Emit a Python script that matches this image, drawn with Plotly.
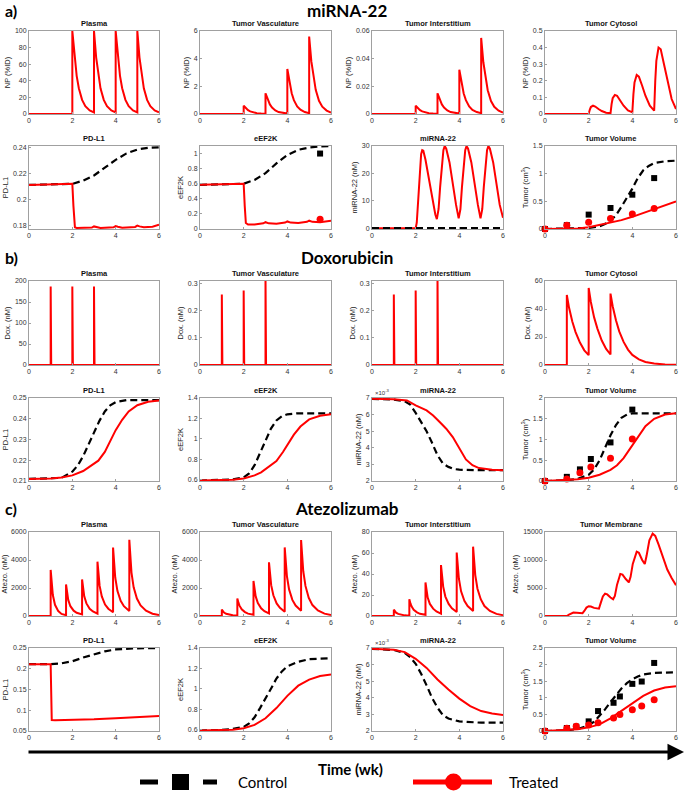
import plotly.graph_objects as go
from plotly.subplots import make_subplots

# ---------------- DATA ----------------
# a) miRNA-22
a_spike_t = [0, 2, 2, 2.1, 2.2, 2.3, 2.45, 2.6, 2.8, 3, 3, 3.1, 3.2, 3.3, 3.45, 3.6, 3.8,
             4, 4, 4.1, 4.2, 4.3, 4.45, 4.6, 4.8, 5, 5, 5.1, 5.2, 5.3, 5.45, 5.6, 5.8, 6]
a_plasma = [0, 0, 100, 68, 46, 31, 17, 9.5, 4.4, 2, 100, 68, 46, 31, 17, 9.5, 4.4,
            2, 100, 68, 46, 31, 17, 9.5, 4.4, 2, 100, 68, 46, 31, 17, 9.5, 4.4, 2]
a_vasc = [0, 0, 0.6, 0.41, 0.28, 0.19, 0.1, 0.06, 0.03, 0.015, 1.5, 1.02, 0.69, 0.47, 0.26, 0.14, 0.07,
          0.03, 3.25, 2.2, 1.5, 1.0, 0.55, 0.31, 0.14, 0.06, 5.6, 3.8, 2.6, 1.75, 0.95, 0.53, 0.25, 0.11]
a_inter = [0, 0, 0.006, 0.0041, 0.0028, 0.0019, 0.001, 0.0006, 0.0003, 0.00015, 0.015, 0.0102, 0.0069,
           0.0047, 0.0026, 0.0014, 0.0007, 0.0003, 0.032, 0.0218, 0.0148, 0.01, 0.0054, 0.003, 0.0014,
           0.0006, 0.055, 0.0374, 0.0255, 0.0172, 0.0094, 0.0052, 0.0024, 0.001]
a_cyto_t = [0, 2.0, 2.05, 2.1, 2.2, 2.3, 2.45, 2.6, 2.8, 3.0, 3.05, 3.1, 3.2, 3.3, 3.45, 3.6, 3.8,
            4.0, 4.05, 4.1, 4.2, 4.3, 4.45, 4.6, 4.8, 5.0, 5.05, 5.1, 5.2, 5.3, 5.45, 5.6, 5.8, 6.0]
a_cyto = [0, 0, 0.025, 0.042, 0.05, 0.045, 0.03, 0.018, 0.008, 0.004, 0.06, 0.095, 0.115, 0.11, 0.08,
          0.05, 0.022, 0.01, 0.12, 0.19, 0.235, 0.225, 0.17, 0.11, 0.05, 0.02, 0.2, 0.32, 0.4, 0.39,
          0.3, 0.2, 0.09, 0.03]
a_pdl1_t_trt = [0, 1, 2.0, 2.05, 2.08, 2.12, 2.2, 2.5, 2.9, 3.0, 3.1, 3.3, 3.9, 4.0, 4.1, 4.3, 4.9,
                5.0, 5.1, 5.3, 5.7, 6.0]
a_pdl1_trt = [0.2112, 0.2115, 0.212, 0.195, 0.182, 0.1785, 0.178, 0.178, 0.1783, 0.1792, 0.1788,
              0.178, 0.1785, 0.1795, 0.179, 0.1782, 0.1788, 0.1798, 0.1792, 0.1785, 0.179, 0.1805]
a_pdl1_t_ctl = [0, 1, 2, 2.5, 3, 3.5, 4, 4.5, 5, 5.5, 6]
a_pdl1_ctl = [0.2112, 0.2115, 0.212, 0.2145, 0.2185, 0.2245, 0.2305, 0.2355, 0.2385, 0.2398, 0.2402]
a_eef_t_trt = [0, 1, 2.0, 2.05, 2.1, 2.2, 2.5, 2.9, 3.0, 3.15, 3.5, 3.9, 4.0, 4.15, 4.5, 4.9, 5.0,
               5.15, 5.5, 6.0]
a_eef_trt = [0.585, 0.59, 0.6, 0.3, 0.08, 0.06, 0.06, 0.075, 0.09, 0.075, 0.07, 0.085, 0.1, 0.085,
             0.08, 0.095, 0.11, 0.095, 0.09, 0.11]
a_eef_t_ctl = [0, 1, 2, 2.5, 3, 3.5, 4, 4.5, 5, 5.5, 6]
a_eef_ctl = [0.585, 0.59, 0.6, 0.65, 0.74, 0.87, 0.98, 1.05, 1.08, 1.095, 1.1]
a_eef_obs_t = [5.5]
a_eef_obs_ctl = [1.0]
a_eef_obs_trt = [0.13]
a_mir_t_trt = [0, 2.0, 2.05, 2.1, 2.15, 2.2, 2.25, 2.3, 2.35, 2.45, 2.6, 2.75, 2.9, 2.97,
               3.05, 3.12, 3.2, 3.27, 3.33, 3.4, 3.55, 3.7, 3.85, 3.97,
               4.05, 4.12, 4.2, 4.27, 4.33, 4.4, 4.55, 4.7, 4.85, 4.97,
               5.05, 5.12, 5.2, 5.27, 5.33, 5.4, 5.55, 5.7, 5.85, 6.0]
a_mir_trt = [0, 0, 2, 8, 16, 23, 27, 28.5, 28.3, 25, 18.5, 11, 5, 3.3,
             7, 15, 23, 28.5, 30, 29, 24, 16, 8.5, 3.6,
             7, 15, 23, 28.5, 30, 29, 24, 16, 8.5, 3.6,
             7, 15, 23, 28.5, 30, 29, 24, 16, 8.5, 3.8]
a_mir_t_ctl = [0, 6]
a_mir_ctl = [0, 0]
a_tum_t_ctl = [0, 1, 2, 2.5, 2.75, 3, 3.25, 3.5, 3.75, 4, 4.25, 4.5, 4.75, 5, 5.5, 6]
a_tum_ctl = [0, 0.005, 0.02, 0.05, 0.09, 0.15, 0.25, 0.4, 0.56, 0.73, 0.92, 1.06, 1.14, 1.19, 1.225, 1.235]
a_tum_t_trt = [0, 1, 1.5, 2, 2.5, 3, 3.5, 4, 4.5, 5, 5.5, 6]
a_tum_trt = [0, 0.005, 0.01, 0.03, 0.07, 0.11, 0.16, 0.22, 0.29, 0.36, 0.43, 0.5]
a_tum_obs_t = [0, 1, 2, 3, 4, 5]
a_tum_obs_ctl = [0, 0.07, 0.26, 0.38, 0.62, 0.92]
a_tum_obs_trt = [0, 0.07, 0.12, 0.19, 0.27, 0.37]

# b) Doxorubicin
b_spike_t = [0, 1, 1, 1.025, 2, 2, 2.025, 3, 3, 3.025, 6]
b_plasma = [0, 0, 187, 0, 0, 187, 0, 0, 187, 0, 0]
b_vasc = [0, 0, 0.26, 0, 0, 0.275, 0, 0, 0.33, 0, 0]
b_inter = [0, 0, 0.26, 0, 0, 0.275, 0, 0, 0.33, 0, 0]
b_cyto_t = [0, 1.0, 1.0, 1.1, 1.25, 1.4, 1.6, 1.8, 2.0, 2.0, 2.1, 2.25, 2.4, 2.6, 2.8, 3.0, 3.0,
            3.1, 3.25, 3.4, 3.6, 3.8, 4.0, 4.3, 4.6, 5.0, 5.5, 6.0]
b_cyto = [0, 0, 50, 41, 31, 23.5, 16, 10.5, 7, 55, 45, 34, 26, 17.5, 11.5, 7.5, 51,
          42, 32, 24, 16.5, 11, 7.2, 4, 2.2, 1.0, 0.4, 0.15]
b_t_ctl = [0, 1, 1.5, 2, 2.25, 2.5, 2.75, 3, 3.25, 3.5, 3.75, 4, 4.5, 5, 6]
b_pdl1_ctl = [0.211, 0.2112, 0.2115, 0.2145, 0.2175, 0.222, 0.2275, 0.233, 0.239, 0.2435, 0.2465,
              0.248, 0.249, 0.249, 0.249]
b_eef_ctl = [0.59, 0.592, 0.6, 0.62, 0.66, 0.74, 0.86, 0.98, 1.1, 1.18, 1.22, 1.24, 1.25, 1.25, 1.25]
b_t_trt = [0, 1, 1.5, 2, 2.5, 2.8, 3.0, 3.2, 3.5, 3.8, 4.0, 4.3, 4.6, 5.0, 5.5, 6.0]
b_pdl1_trt = [0.211, 0.2112, 0.2117, 0.2127, 0.2148, 0.2168, 0.2185, 0.2198, 0.224, 0.2305, 0.2345,
              0.2395, 0.2435, 0.2465, 0.2482, 0.2488]
b_eef_trt = [0.59, 0.592, 0.598, 0.61, 0.64, 0.67, 0.7, 0.73, 0.78, 0.87, 0.94, 1.04, 1.12, 1.19,
             1.225, 1.24]
b_mir_t_ctl = [0, 1, 1.5, 1.75, 2.0, 2.25, 2.5, 2.75, 3.0, 3.25, 3.5, 3.75, 4.0, 5.0, 6.0]
b_mir_ctl = [6.95, 6.9, 6.8, 6.6, 6.1, 5.55, 5.0, 4.3, 3.55, 3.05, 2.85, 2.72, 2.68, 2.65, 2.65]
b_mir_t_trt = [0, 1, 1.6, 2.0, 2.5, 2.8, 3.1, 3.4, 3.7, 4.0, 4.3, 4.6, 4.9, 5.5, 6.0]
b_mir_trt = [6.95, 6.92, 6.85, 6.55, 6.25, 5.95, 5.55, 5.15, 4.65, 4.0, 3.3, 2.95, 2.78, 2.68, 2.65]
b_tum_t_ctl = [0, 1, 1.5, 2, 2.25, 2.5, 2.75, 3.0, 3.25, 3.5, 3.75, 4.0, 5, 6]
b_tum_ctl = [0, 0.02, 0.05, 0.15, 0.28, 0.5, 0.8, 1.1, 1.35, 1.52, 1.6, 1.63, 1.63, 1.63]
b_tum_t_trt = [0, 1, 1.5, 2, 2.5, 3.0, 3.3, 3.6, 4.0, 4.3, 4.6, 5.0, 5.5, 6.0]
b_tum_trt = [0, 0.02, 0.04, 0.08, 0.15, 0.27, 0.38, 0.55, 0.85, 1.1, 1.32, 1.5, 1.6, 1.63]
b_tum_obs_t = [0, 1, 1.6, 2.1, 3, 4]
b_tum_obs_ctl = [0, 0.1, 0.28, 0.53, 0.93, 1.72]
b_tum_obs_trt = [0, 0.05, 0.2, 0.34, 0.55, 1.01]

# c) Atezolizumab
c_spike_t = [0, 1.0, 1.0, 1.05, 1.1, 1.2, 1.35, 1.5, 1.71, 1.71, 1.76, 1.81, 1.91, 2.06, 2.2,
             2.45, 2.45, 2.5, 2.55, 2.65, 2.8, 2.95, 3.16, 3.16, 3.21, 3.26, 3.36, 3.51, 3.66,
             3.88, 3.88, 3.93, 3.98, 4.08, 4.23, 4.38, 4.63, 4.63, 4.68, 4.73, 4.83, 4.98, 5.15,
             5.4, 5.7, 6.0]
c_plasma = [0, 0, 3290, 2200, 1500, 800, 350, 150, 60, 2250, 1600, 1150, 700, 380, 230,
            110, 2610, 1900, 1400, 900, 520, 320, 160, 3880, 2850, 2150, 1400, 820, 520,
            270, 4890, 3600, 2750, 1800, 1080, 700, 350, 5450, 4050, 3100, 2050, 1250, 750,
            380, 160, 70]
c_vasc = [0, 0, 456, 330, 250, 160, 90, 50, 30, 1250, 950, 740, 480, 280, 170,
          90, 2500, 1850, 1400, 920, 550, 340, 180, 3840, 2850, 2200, 1480, 900, 580,
          300, 4900, 3650, 2850, 1900, 1150, 750, 380, 5420, 4100, 3200, 2150, 1300, 780,
          400, 170, 70]
c_inter = [0, 0, 6, 4.3, 3.2, 2, 1.1, 0.6, 0.3, 16, 12, 9.3, 6, 3.5, 2.1,
           1.1, 32, 23.5, 17.5, 11.5, 7, 4.3, 2.3, 48.5, 36, 28, 18.5, 11.5, 7.3,
           3.8, 60.5, 45, 35.5, 23.5, 14.5, 9.5, 4.8, 66, 50, 39, 26, 16, 9.5,
           4.8, 2, 0.8]
c_memb_t = [0, 1.0, 1.1, 1.2, 1.3, 1.45, 1.6, 1.72, 1.8, 1.9, 2.0, 2.1, 2.25, 2.4, 2.47, 2.55,
            2.65, 2.75, 2.85, 3.0, 3.12, 3.2, 3.3, 3.45, 3.55, 3.7, 3.84, 3.92, 4.02, 4.2, 4.3,
            4.45, 4.57, 4.65, 4.78, 4.93, 5.05, 5.2, 5.4, 5.6, 5.8, 6.0]
c_memb = [0, 0, 250, 500, 620, 600, 520, 500, 900, 1500, 1750, 1700, 1450, 1270, 1300, 2300,
          3500, 4000, 3850, 3300, 3000, 3600, 5600, 7500, 7400, 6600, 6000, 7000, 9300, 11500,
          11300, 10000, 9300, 10700, 13500, 14700, 14300, 12800, 10500, 8300, 6800, 5500]
c_pdl1_t_trt = [0, 1.0, 1.0, 1.02, 1.05, 1.2, 2, 3, 4, 5, 6]
c_pdl1_trt = [0.211, 0.211, 0.209, 0.12, 0.0765, 0.0762, 0.0768, 0.0782, 0.081, 0.0842, 0.0862]
c_pdl1_t_ctl = [0, 1.0, 1.5, 2.0, 2.5, 3.0, 3.5, 4.0, 4.5, 5.0, 6.0]
c_pdl1_ctl = [0.211, 0.211, 0.213, 0.218, 0.227, 0.235, 0.242, 0.2465, 0.2485, 0.2493, 0.2497]
c_eef_t_ctl = [0, 1, 1.5, 2, 2.25, 2.5, 2.75, 3.0, 3.25, 3.5, 3.75, 4.0, 4.5, 5.0, 5.5, 6.0]
c_eef_ctl = [0.59, 0.595, 0.605, 0.625, 0.66, 0.72, 0.81, 0.9, 1.0, 1.1, 1.17, 1.22, 1.265, 1.29,
             1.297, 1.3]
c_eef_t_trt = [0, 1, 1.5, 2, 2.5, 3.0, 3.5, 4.0, 4.5, 5.0, 5.5, 6.0]
c_eef_trt = [0.59, 0.592, 0.598, 0.612, 0.645, 0.71, 0.81, 0.93, 1.03, 1.09, 1.125, 1.14]
c_mir_t_ctl = [0, 1, 1.5, 1.75, 2.0, 2.25, 2.5, 2.75, 3.0, 3.25, 3.5, 4.0, 5.0, 6.0]
c_mir_ctl = [6.95, 6.88, 6.7, 6.45, 6.05, 5.45, 4.75, 4.0, 3.4, 2.95, 2.75, 2.58, 2.5, 2.5]
c_mir_t_trt = [0, 1, 1.5, 2.0, 2.5, 3.0, 3.5, 4.0, 4.5, 5.0, 5.5, 6.0]
c_mir_trt = [6.95, 6.9, 6.75, 6.35, 5.8, 5.1, 4.5, 3.95, 3.5, 3.2, 3.05, 2.97]
c_tum_t_ctl = [0, 1, 1.5, 2.0, 2.25, 2.5, 2.75, 3.0, 3.25, 3.5, 3.75, 4.0, 4.25, 4.5, 5.0, 5.5, 6.0]
c_tum_ctl = [0, 0.02, 0.06, 0.17, 0.28, 0.45, 0.65, 0.87, 1.08, 1.28, 1.44, 1.56, 1.64, 1.7, 1.75,
             1.76, 1.77]
c_tum_t_trt = [0, 1, 1.5, 2.0, 2.5, 3.0, 3.5, 4.0, 4.5, 5.0, 5.5, 6.0]
c_tum_trt = [0, 0.02, 0.05, 0.11, 0.2, 0.38, 0.6, 0.84, 1.06, 1.22, 1.31, 1.35]
c_tum_obs_t = [0, 1.0, 1.43, 2.0, 2.43, 3.14, 3.43, 4.0, 4.43, 5.0]
c_tum_obs_ctl = [0, 0.09, 0.13, 0.29, 0.6, 0.85, 1.04, 1.42, 1.49, 2.05]
c_tum_obs_trt = [0, 0.08, 0.14, 0.18, 0.25, 0.39, 0.5, 0.64, 0.75, 0.94]

# ---------------- LAYOUT ----------------
W, H = 685, 792
COLS = [(29, 159), (200, 331), (372, 503), (545, 676)]
ROWS = [(31, 114), (146, 229), (281, 365), (398, 481), (532, 616), (648, 731)]
RED = "#ff0000"
TUM = "Tumor (cm<sup>3</sup>)"

def T(vals, texts):
    return (vals, texts)

panels = {
    (0, 0): dict(title="Plasma", ylab="NP (%ID)", yr=[0, 100],
                 ticks=T([0, 20, 40, 60, 80, 100], ["0", "20", "40", "60", "80", "100"]),
                 red=[(a_spike_t, a_plasma)]),
    (0, 1): dict(title="Tumor Vasculature", ylab="NP (%ID)", yr=[0, 6],
                 ticks=T([0, 2, 4, 6], ["0", "2", "4", "6"]), red=[(a_spike_t, a_vasc)]),
    (0, 2): dict(title="Tumor Interstitium", ylab="NP (%ID)", yr=[0, 0.06],
                 ticks=T([0, 0.02, 0.04, 0.06], ["0", "0.02", "0.04", "0.06"]), red=[(a_spike_t, a_inter)]),
    (0, 3): dict(title="Tumor Cytosol", ylab="NP (%ID)", yr=[0, 0.5],
                 ticks=T([0, 0.1, 0.2, 0.3, 0.4, 0.5], ["0", "0.1", "0.2", "0.3", "0.4", "0.5"]),
                 red=[(a_cyto_t, a_cyto)]),
    (1, 0): dict(title="PD-L1", ylab="PD-L1", yr=[0.1772, 0.2412],
                 ticks=T([0.18, 0.2, 0.22, 0.24], ["0.18", "0.2", "0.22", "0.24"]),
                 blk=[(a_pdl1_t_ctl, a_pdl1_ctl)], red=[(a_pdl1_t_trt, a_pdl1_trt)]),
    (1, 1): dict(title="eEF2K", ylab="eEF2K", yr=[0, 1.1],
                 ticks=T([0, 0.2, 0.4, 0.6, 0.8, 1], ["0", "0.2", "0.4", "0.6", "0.8", "1"]),
                 blk=[(a_eef_t_ctl, a_eef_ctl)], red=[(a_eef_t_trt, a_eef_trt)],
                 sq=(a_eef_obs_t, a_eef_obs_ctl), ci=(a_eef_obs_t, a_eef_obs_trt)),
    (1, 2): dict(title="miRNA-22", ylab="miRNA-22 (nM)", yr=[-0.3, 30],
                 ticks=T([0, 10, 20, 30], ["0", "10", "20", "30"]),
                 red=[(a_mir_t_trt, a_mir_trt)], blk_top=[(a_mir_t_ctl, a_mir_ctl)]),
    (1, 3): dict(title="Tumor Volume", ylab=TUM, yr=[0, 1.5],
                 ticks=T([0, 0.5, 1, 1.5], ["0", "0.5", "1", "1.5"]),
                 blk=[(a_tum_t_ctl, a_tum_ctl)], red=[(a_tum_t_trt, a_tum_trt)],
                 sq=(a_tum_obs_t, a_tum_obs_ctl), ci=(a_tum_obs_t, a_tum_obs_trt)),
    (2, 0): dict(title="Plasma", ylab="Dox. (nM)", yr=[0, 200],
                 ticks=T([0, 50, 100, 150, 200], ["0", "50", "100", "150", "200"]),
                 red=[(b_spike_t, b_plasma)]),
    (2, 1): dict(title="Tumor Vasculature", ylab="Dox. (nM)", yr=[0, 0.31],
                 ticks=T([0, 0.1, 0.2, 0.3], ["0", "0.1", "0.2", "0.3"]), red=[(b_spike_t, b_vasc)]),
    (2, 2): dict(title="Tumor Interstitium", ylab="Dox. (nM)", yr=[0, 0.31],
                 ticks=T([0, 0.1, 0.2, 0.3], ["0", "0.1", "0.2", "0.3"]), red=[(b_spike_t, b_inter)]),
    (2, 3): dict(title="Tumor Cytosol", ylab="Dox. (nM)", yr=[0, 60],
                 ticks=T([0, 20, 40, 60], ["0", "20", "40", "60"]), red=[(b_cyto_t, b_cyto)]),
    (3, 0): dict(title="PD-L1", ylab="PD-L1", yr=[0.21, 0.25],
                 ticks=T([0.21, 0.22, 0.23, 0.24, 0.25], ["0.21", "0.22", "0.23", "0.24", "0.25"]),
                 blk=[(b_t_ctl, b_pdl1_ctl)], red=[(b_t_trt, b_pdl1_trt)]),
    (3, 1): dict(title="eEF2K", ylab="eEF2K", yr=[0.585, 1.4],
                 ticks=T([0.6, 0.8, 1, 1.2, 1.4], ["0.6", "0.8", "1", "1.2", "1.4"]),
                 blk=[(b_t_ctl, b_eef_ctl)], red=[(b_t_trt, b_eef_trt)]),
    (3, 2): dict(title="miRNA-22", ylab="miRNA-22 (nM)", yr=[2, 7], exp=True,
                 ticks=T([2, 3, 4, 5, 6, 7], ["2", "3", "4", "5", "6", "7"]),
                 blk=[(b_mir_t_ctl, b_mir_ctl)], red=[(b_mir_t_trt, b_mir_trt)]),
    (3, 3): dict(title="Tumor Volume", ylab=TUM, yr=[0, 2],
                 ticks=T([0, 0.5, 1, 1.5, 2], ["0", "0.5", "1", "1.5", "2"]),
                 blk=[(b_tum_t_ctl, b_tum_ctl)], red=[(b_tum_t_trt, b_tum_trt)],
                 sq=(b_tum_obs_t, b_tum_obs_ctl), ci=(b_tum_obs_t, b_tum_obs_trt)),
    (4, 0): dict(title="Plasma", ylab="Atezo. (nM)", yr=[0, 6000],
                 ticks=T([0, 2000, 4000, 6000], ["0", "2000", "4000", "6000"]), red=[(c_spike_t, c_plasma)]),
    (4, 1): dict(title="Tumor Vasculature", ylab="Atezo. (nM)", yr=[0, 6000],
                 ticks=T([0, 2000, 4000, 6000], ["0", "2000", "4000", "6000"]), red=[(c_spike_t, c_vasc)]),
    (4, 2): dict(title="Tumor Interstitium", ylab="Atezo. (nM)", yr=[0, 80],
                 ticks=T([0, 20, 40, 60, 80], ["0", "20", "40", "60", "80"]), red=[(c_spike_t, c_inter)]),
    (4, 3): dict(title="Tumor Membrane", ylab="Atezo. (nM)", yr=[0, 15000],
                 ticks=T([0, 5000, 10000, 15000], ["0", "5000", "10000", "15000"]), red=[(c_memb_t, c_memb)]),
    (5, 0): dict(title="PD-L1", ylab="PD-L1", yr=[0.05, 0.25],
                 ticks=T([0.05, 0.1, 0.15, 0.2, 0.25], ["0.05", "0.1", "0.15", "0.2", "0.25"]),
                 blk=[(c_pdl1_t_ctl, c_pdl1_ctl)], red=[(c_pdl1_t_trt, c_pdl1_trt)]),
    (5, 1): dict(title="eEF2K", ylab="eEF2K", yr=[0.585, 1.4],
                 ticks=T([0.6, 0.8, 1, 1.2, 1.4], ["0.6", "0.8", "1", "1.2", "1.4"]),
                 blk=[(c_eef_t_ctl, c_eef_ctl)], red=[(c_eef_t_trt, c_eef_trt)]),
    (5, 2): dict(title="miRNA-22", ylab="miRNA-22 (nM)", yr=[2, 7], exp=True,
                 ticks=T([2, 3, 4, 5, 6, 7], ["2", "3", "4", "5", "6", "7"]),
                 blk=[(c_mir_t_ctl, c_mir_ctl)], red=[(c_mir_t_trt, c_mir_trt)]),
    (5, 3): dict(title="Tumor Volume", ylab=TUM, yr=[0, 2.5],
                 ticks=T([0, 0.5, 1, 1.5, 2, 2.5], ["0", "0.5", "1", "1.5", "2", "2.5"]),
                 blk=[(c_tum_t_ctl, c_tum_ctl)], red=[(c_tum_t_trt, c_tum_trt)],
                 sq=(c_tum_obs_t, c_tum_obs_ctl), ci=(c_tum_obs_t, c_tum_obs_trt)),
}

fig = make_subplots(rows=6, cols=4)
FONT = "Liberation Sans, Arial, sans-serif"
HEAD = "Lato, Open Sans, sans-serif"
annotations = []

def blk_line(x, y):
    return go.Scatter(x=x, y=y, mode="lines", showlegend=False, hoverinfo="skip",
                      line=dict(color="black", width=2.2, dash="7px,4px"))

def red_line(x, y):
    return go.Scatter(x=x, y=y, mode="lines", showlegend=False, hoverinfo="skip",
                      line=dict(color=RED, width=2))

for (r, c), p in panels.items():
    row, col = r + 1, c + 1
    for x, y in p.get("blk", []):
        fig.add_trace(blk_line(x, y), row=row, col=col)
    if "sq" in p:
        fig.add_trace(go.Scatter(x=p["sq"][0], y=p["sq"][1], mode="markers", showlegend=False,
                                 cliponaxis=False, marker=dict(symbol="square", size=6, color="black")),
                      row=row, col=col)
    for x, y in p.get("red", []):
        fig.add_trace(red_line(x, y), row=row, col=col)
    for x, y in p.get("blk_top", []):
        fig.add_trace(blk_line(x, y), row=row, col=col)
    if "ci" in p:
        fig.add_trace(go.Scatter(x=p["ci"][0], y=p["ci"][1], mode="markers", showlegend=False,
                                 cliponaxis=False, marker=dict(symbol="circle", size=7, color=RED)),
                      row=row, col=col)

    n = r * 4 + c + 1
    xa = "xaxis" if n == 1 else f"xaxis{n}"
    ya = "yaxis" if n == 1 else f"yaxis{n}"
    x0, x1 = COLS[c]
    y0, y1 = ROWS[r]
    axcommon = dict(showline=True, mirror=True, linecolor="#a0a0a0", linewidth=1,
                    ticks="inside", ticklen=2, tickcolor="#a0a0a0", showgrid=False, zeroline=False,
                    automargin=False, tickfont=dict(family=FONT, size=7, color="#333"))
    fig.layout[xa].update(domain=[x0 / W, x1 / W], range=[0, 6], tickvals=[0, 2, 4, 6],
                          ticktext=["0", "2", "4", "6"], **axcommon)
    fig.layout[ya].update(domain=[1 - y1 / H, 1 - y0 / H], range=p["yr"],
                          tickvals=p["ticks"][0], ticktext=p["ticks"][1],
                          title=dict(text=p["ylab"], font=dict(family=FONT, size=7.5, color="#222"), standoff=3),
                          **axcommon)
    annotations.append(dict(text="<b>" + p["title"] + "</b>", xref="paper", yref="paper",
                            x=(x0 + x1) / 2 / W, y=1 - (y0 - 1) / H, xanchor="center", yanchor="bottom",
                            showarrow=False, font=dict(family=FONT, size=7.5, color="#111")))
    if p.get("exp"):
        annotations.append(dict(text="×10<sup>-3</sup>", xref="paper", yref="paper",
                                x=(x0 + 1) / W, y=1 - (y0 - 0.5) / H, xanchor="left", yanchor="bottom",
                                showarrow=False, font=dict(family=FONT, size=6, color="#333")))

# section headers
for lab, title, yy in [("a)", "miRNA-22", 10), ("b)", "Doxorubicin", 257), ("c)", "Atezolizumab", 508)]:
    annotations.append(dict(text="<b>" + lab + "</b>", xref="paper", yref="paper", x=3 / W, y=1 - yy / H,
                            xanchor="left", yanchor="middle", showarrow=False,
                            font=dict(family=HEAD, size=16, color="black")))
    annotations.append(dict(text="<b>" + title + "</b>", xref="paper", yref="paper", x=347 / W, y=1 - yy / H,
                            xanchor="center", yanchor="middle", showarrow=False,
                            font=dict(family=HEAD, size=17, color="black")))

# time arrow
annotations.append(dict(x=684 / W, y=1 - 752 / H, ax=-(684 - 27), ay=0, xref="paper", yref="paper",
                        axref="pixel", ayref="pixel", text="", showarrow=True, arrowhead=2,
                        arrowsize=1.1, arrowwidth=3, arrowcolor="black"))
annotations.append(dict(text="<b>Time (wk)</b>", xref="paper", yref="paper", x=350 / W, y=1 - 769 / H,
                        xanchor="center", yanchor="middle", showarrow=False,
                        font=dict(family=HEAD, size=15, color="black")))
annotations.append(dict(text="Control", xref="paper", yref="paper", x=236 / W, y=1 - 782 / H,
                        xanchor="left", yanchor="middle", showarrow=False,
                        font=dict(family=HEAD, size=15, color="black")))
annotations.append(dict(text="Treated", xref="paper", yref="paper", x=507 / W, y=1 - 782 / H,
                        xanchor="left", yanchor="middle", showarrow=False,
                        font=dict(family=HEAD, size=15, color="black")))

def py(v):
    return 1 - v / H

shapes = [
    dict(type="line", xref="paper", yref="paper", x0=140 / W, x1=158 / W, y0=py(782), y1=py(782),
         line=dict(color="black", width=5)),
    dict(type="rect", xref="paper", yref="paper", x0=172 / W, x1=189 / W, y0=py(790), y1=py(774),
         line=dict(width=0), fillcolor="black"),
    dict(type="line", xref="paper", yref="paper", x0=203 / W, x1=217 / W, y0=py(782), y1=py(782),
         line=dict(color="black", width=5)),
    dict(type="line", xref="paper", yref="paper", x0=413 / W, x1=492 / W, y0=py(782), y1=py(782),
         line=dict(color=RED, width=5)),
    dict(type="circle", xref="paper", yref="paper", x0=445 / W, x1=462 / W, y0=py(790.5), y1=py(773.5),
         line=dict(width=0), fillcolor=RED),
]

fig.update_layout(width=W, height=H, autosize=False, margin=dict(l=0, r=0, t=0, b=0),
                  paper_bgcolor="white", plot_bgcolor="white", showlegend=False,
                  annotations=annotations, shapes=shapes)
fig.write_html("out.html", config={"displayModeBar": False},
               post_script="document.body.style.margin='0';document.body.style.overflow='hidden';")
